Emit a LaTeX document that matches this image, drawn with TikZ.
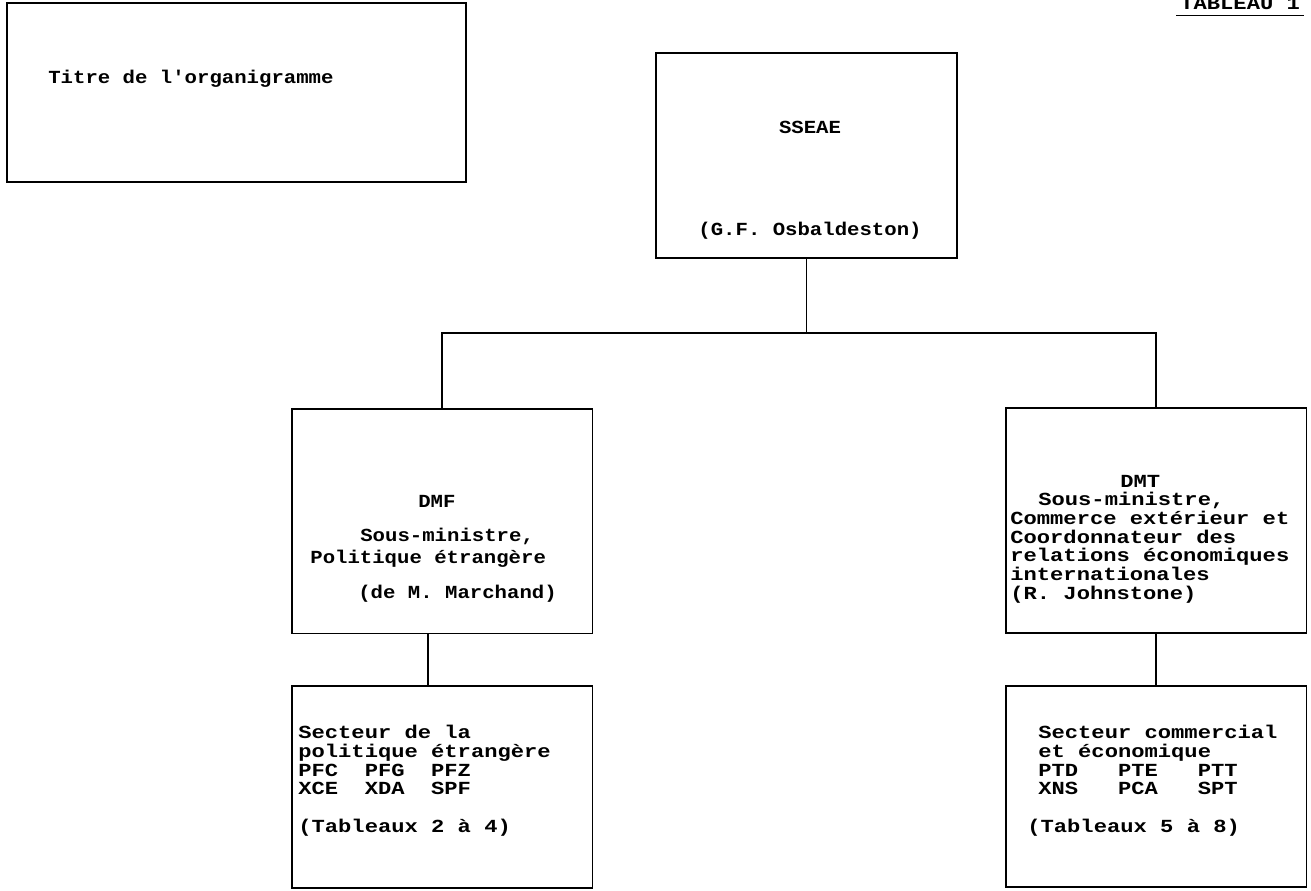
\documentclass[tikz,border=0pt]{standalone}
\usepackage{fontspec}
\setmonofont{Liberation Mono}[FakeStretch=1.2]
\newfontfamily\narrowtt{Liberation Mono}[FakeStretch=1.12]
\usetikzlibrary{positioning,calc}

\begin{document}
\begin{tikzpicture}[
  x=0.02cm, y=-0.02cm,
  box/.style={draw, line width=1.1pt, minimum width=6.02cm, minimum height=4.5cm, inner sep=0pt},
  txt/.style={font=\ttfamily\bfseries\fontsize{10.5}{10.6}\selectfont, align=left, inner sep=0pt, anchor=base west},
  txtn/.style={txt, font=\narrowtt\bfseries\fontsize{10.5}{10.6}\selectfont},
  link/.style={line width=1.1pt},
  node distance=1.02cm and 0.5cm
]
\useasboundingbox (0,0) rectangle (1311,890);

% boxes
\node[box, minimum width=9.18cm, minimum height=3.58cm] (titre) at (236.5,92.5) {};
\node[box, minimum height=4.1cm] (sseae) at (806.5,155.5) {};
\node[box] (dmf) at (442,521) {};
\node[box] (dmt) at (1156,520.5) {};
\node[box, minimum height=4.04cm, below=of dmf] (pfs) {};
\node[box, minimum height=4.02cm, below=of dmt] (pcs) {};

% texts (anchored on the baseline of their last line)
\node[txtn] (titre-t) at (48,83) {Titre de l'organigramme};
\node[txt, inner xsep=0.08cm, inner ysep=3.4pt] (tab) at (1176,9) {TABLEAU 1};
\draw[line width=0.9pt] (tab.south west) -- (tab.south east);

\node[txtn, align=center, anchor=base] (sseae-t) at (810,235)
  {SSEAE\\[47pt](G.F. Osbaldeston)};

\node[txtn] (dmf-t) at (310,598)
  {\hspace*{2.16cm}DMF\\[8.8pt]
   \hspace*{1cm}Sous-ministre,\\[2pt]
   Politique étrangère\\[8.8pt]
   \hspace*{0.96cm}(de M. Marchand)};

\node[txt] (dmt-t) at (1010,599)
  {\hspace*{2.2cm}DMT\\
   \hspace*{0.56cm}Sous-ministre,\\
   Commerce extérieur et\\
   Coordonnateur des\\
   relations économiques\\
   internationales\\
   (R. Johnstone)};

\node[txt] (pfs-t) at (298,832)
  {Secteur de la\\
   politique étrangère\\
   PFC~~PFG~~PFZ\\
   XCE~~XDA~~SPF\\[10.6pt]
   (Tableaux 2 à 4)};

\node[txt] (pcs-t) at (1038,832)
  {Secteur commercial\\
   et économique\\
   PTD~~~PTE~~~PTT\\
   XNS~~~PCA~~~SPT\\[10.6pt]
   \hspace*{-0.22cm}(Tableaux 5 à 8)};

% connectors
\coordinate (bus) at ($(sseae.south)+(0,74)$);
\draw[link] (sseae.south) -- (bus);
\draw[link] (dmf.north) |- (bus) -| (dmt.north);
\draw[link] ([xshift=-0.28cm]dmf.south) -- ([xshift=-0.28cm]pfs.north);
\draw[link] (dmt.south) -- (pcs.north);
\end{tikzpicture}
\end{document}
